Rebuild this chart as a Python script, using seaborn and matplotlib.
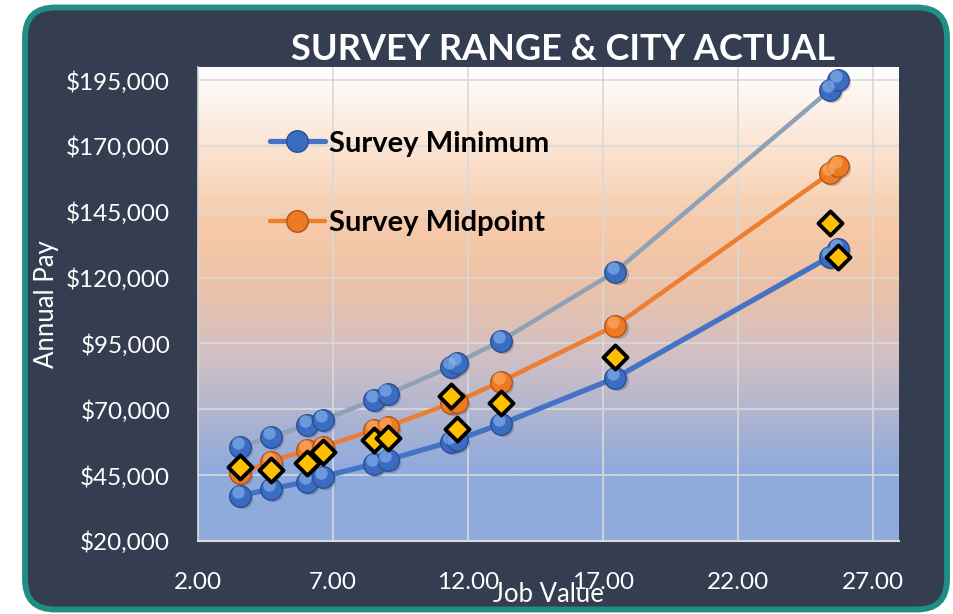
import numpy as np
import pandas as pd
import seaborn as sns
import matplotlib.pyplot as plt
import matplotlib.transforms as mtransforms
from matplotlib.colors import LinearSegmentedColormap
from matplotlib.patches import FancyBboxPatch
from matplotlib.ticker import FuncFormatter

# valores
job_value = [3.56, 4.69, 6.03, 6.63, 8.52, 9.02, 11.37, 11.58, 13.21, 17.46, 25.41, 25.71]
survey_min = [37200, 39760, 42530, 44430, 49260, 50780, 57730, 58370, 64340, 81930, 128020, 130940]
survey_mid = [45720, 50130, 54570, 55830, 62170, 63430, 72320, 72930, 80520, 101800, 159700, 162480]
survey_max = [55830, 59400, 64070, 65970, 73570, 75740, 86220, 87510, 95990, 122320, 191350, 195150]
city_actual = [48000, 46980, 49520, 53700, 58370, 59020, 75090, 62550, 72550, 90020, 140940, 127790]

df = pd.DataFrame({'job': job_value, 'min': survey_min, 'mid': survey_mid,
                   'max': survey_max, 'city': city_actual})

sns.set_theme(style='white')
plt.rcParams['font.family'] = ['Lato', 'DejaVu Sans']

W, H = 954, 614
fig = plt.figure(figsize=(W / 100, H / 100), dpi=100, facecolor='white')

# moldura escura com borda arredondada
frame = FancyBboxPatch((0.25, 0.045), 9.22, 6.02, boxstyle='round,pad=0,rounding_size=0.3',
                       transform=fig.dpi_scale_trans, facecolor='#343E50',
                       edgecolor='#1F8E85', linewidth=4.2, zorder=-5)
fig.patches.append(frame)

ax = fig.add_axes([198 / W, 1 - 541 / H, (899 - 198) / W, (541 - 67) / H])
ax.set_zorder(2)
ax.patch.set_alpha(0)

xmin, xmax, ymin, ymax = 2, 27.96, 20000, 200000

# fundo em gradiente
grad_cmap = LinearSegmentedColormap.from_list('bg', [
    (0.0, '#FFFFFF'), (0.32, '#F7CBAA'), (0.45, '#EEC2A6'),
    (0.62, '#CFBFC5'), (0.85, '#8FAADC'), (1.0, '#8FAADC')])
ax.imshow(np.linspace(0, 1, 300).reshape(-1, 1), cmap=grad_cmap, aspect='auto',
          extent=[xmin, xmax, ymin, ymax], origin='upper', zorder=0)


def glossy(col, base, edge, light, line_color, lw, label):
    sns.lineplot(data=df, x='job', y=col, color=line_color, linewidth=lw, sort=False,
                 estimator=None, marker='o', markersize=15.5, markerfacecolor=base,
                 markeredgecolor=edge, markeredgewidth=1.0, label=label, ax=ax, zorder=3)
    sh = mtransforms.offset_copy(ax.transData, fig=fig, x=1.5, y=-1.5, units='points')
    ax.scatter(df['job'], df[col], s=235, color='black', alpha=0.18, linewidth=0,
               transform=sh, zorder=2.9)
    hl = mtransforms.offset_copy(ax.transData, fig=fig, x=-1.5, y=2.8, units='points')
    ax.scatter(df['job'], df[col], s=80, color=light, alpha=0.6, linewidth=0,
               transform=hl, zorder=4)


glossy('max', '#3A6CC2', '#2A4E8F', '#8FB6F0', '#8EA1B6', 3.2, '_max')
glossy('mid', '#EC7A22', '#B0551A', '#FFB070', '#ED7D31', 3.2, 'Survey Midpoint')
glossy('min', '#3A6CC2', '#2A4E8F', '#8FB6F0', '#4472C4', 3.8, 'Survey Minimum')

sns.scatterplot(data=df, x='job', y='city', marker='D', s=150, color='#FFC000',
                edgecolor='black', linewidth=2.8, zorder=6, ax=ax)

ax.set_xlim(xmin, xmax)
ax.set_ylim(ymin, ymax)
ax.set_xticks(np.arange(2, 28, 5))
ax.set_yticks(np.arange(20000, 200000, 25000))
ax.xaxis.set_major_formatter(FuncFormatter(lambda v, p: f'{v:.2f}'))
ax.yaxis.set_major_formatter(FuncFormatter(lambda v, p: f'${v:,.0f}'))
ax.set_axisbelow(True)
ax.grid(True, color='#D9D9D9', linewidth=1.2, zorder=1)
ax.tick_params(axis='both', length=0, labelsize=17.5, colors='white')
ax.tick_params(axis='x', pad=22)
ax.tick_params(axis='y', pad=20)
for s in ['top', 'right']:
    ax.spines[s].set_visible(False)
ax.spines['bottom'].set_color('#D9D9D9')
ax.spines['bottom'].set_linewidth(1.5)
ax.spines['left'].set_color('#D9D9D9')
ax.spines['left'].set_linewidth(1.2)

ax.set_xlabel('')
ax.set_ylabel('')
fig.text(548 / W, 1 - 594 / H, 'Job Value', ha='center', va='center', color='white', fontsize=18.5)
fig.text(47 / W, 1 - 304 / H, 'Annual Pay', ha='center', va='center', color='white',
         fontsize=18.5, rotation=90)
fig.text(563 / W, 1 - 49 / H, 'SURVEY RANGE & CITY ACTUAL', ha='center', va='center',
         color='white', fontsize=26, fontweight='bold')

handles, labels = ax.get_legend_handles_labels()
order = [labels.index('Survey Minimum'), labels.index('Survey Midpoint')]
leg = ax.legend([handles[i] for i in order], [labels[i] for i in order],
                loc='upper left', bbox_to_anchor=(0.102, 0.866), frameon=False,
                borderpad=0, borderaxespad=0, handlelength=1.9, handletextpad=0.15,
                labelspacing=1.85, prop={'size': 21, 'weight': 'bold'})
for t in leg.get_texts():
    t.set_color('black')

plt.savefig('out.png', dpi=100)
